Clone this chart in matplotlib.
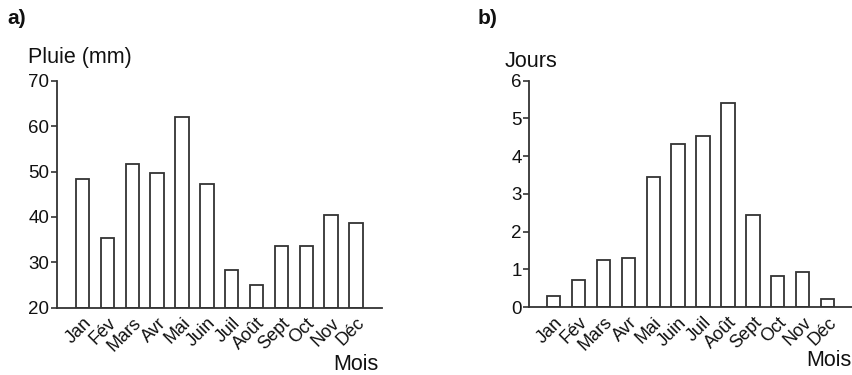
import matplotlib
matplotlib.use("Agg")
import matplotlib.pyplot as plt
import numpy as np

plt.rcParams['font.family'] = ['Liberation Sans', 'DejaVu Sans']

months = ["Jan", "Fév", "Mars", "Avr", "Mai", "Juin", "Juil", "Août", "Sept", "Oct", "Nov", "Déc"]
pluie = [48.3, 35.3, 51.6, 49.7, 62.1, 47.2, 28.4, 25.0, 33.7, 33.5, 40.4, 38.7]
jours = [0.30, 0.72, 1.24, 1.30, 3.44, 4.32, 4.54, 5.41, 2.43, 0.81, 0.93, 0.21]
yticks_a = [20, 30, 40, 50, 60, 70]
yticks_b = [0, 1, 2, 3, 4, 5, 6]

W, H = 852, 375
fig = plt.figure(figsize=(W / 100, H / 100), dpi=100)
fig.patch.set_facecolor('white')

def px_axes(x0, x1, ytop, ybot):
    return fig.add_axes([x0 / W, 1 - ybot / H, (x1 - x0) / W, (ybot - ytop) / H])

ax1 = px_axes(57, 382, 80.7, 307.7)
ax2 = px_axes(529.3, 851.7, 80.7, 307.0)

edge = '#333333'

def style(ax, vals, yt, ylim, xlim):
    x = np.arange(len(months))
    ax.bar(x, [v - ylim[0] for v in vals], bottom=ylim[0], width=0.54,
           color='white', edgecolor=edge, linewidth=1.3)
    ax.set_xlim(*xlim)
    ax.set_ylim(*ylim)
    ax.set_yticks(yt)
    ax.set_yticklabels([str(t) for t in yt], fontsize=13.5, color='#111111')
    ax.set_xticks(x)
    ax.set_xticklabels(months, rotation=45, ha='right', rotation_mode='anchor',
                       fontsize=13, color='#111111')
    ax.tick_params(axis='x', length=0, pad=5)
    ax.tick_params(axis='y', length=4, width=1.2, color=edge, pad=1.5)
    for s in ['top', 'right']:
        ax.spines[s].set_visible(False)
    for s in ['left', 'bottom']:
        ax.spines[s].set_color(edge)
        ax.spines[s].set_linewidth(1.3)
    ax.patch.set_alpha(0)

style(ax1, pluie, yticks_a, (20, 70), (-1.03, 12.05))
style(ax2, jours, yticks_b, (0, 6), (-0.98, 11.97))

def ftext(x, y, s, **kw):
    fig.text(x / W, 1 - y / H, s, va='baseline', **kw)

ftext(7, 24, "a)", fontsize=15, fontweight='bold', color='#111111')
ftext(478, 24, "b)", fontsize=15, fontweight='bold', color='#111111')
ftext(28, 63, "Pluie (mm)", fontsize=15.5, color='#111111')
ftext(505, 67, "Jours", fontsize=15.5, color='#111111')
ftext(333, 370, "Mois", fontsize=15.5, color='#111111')
ftext(806, 366, "Mois", fontsize=15.5, color='#111111')

fig.savefig("out.png", dpi=100, facecolor='white')
